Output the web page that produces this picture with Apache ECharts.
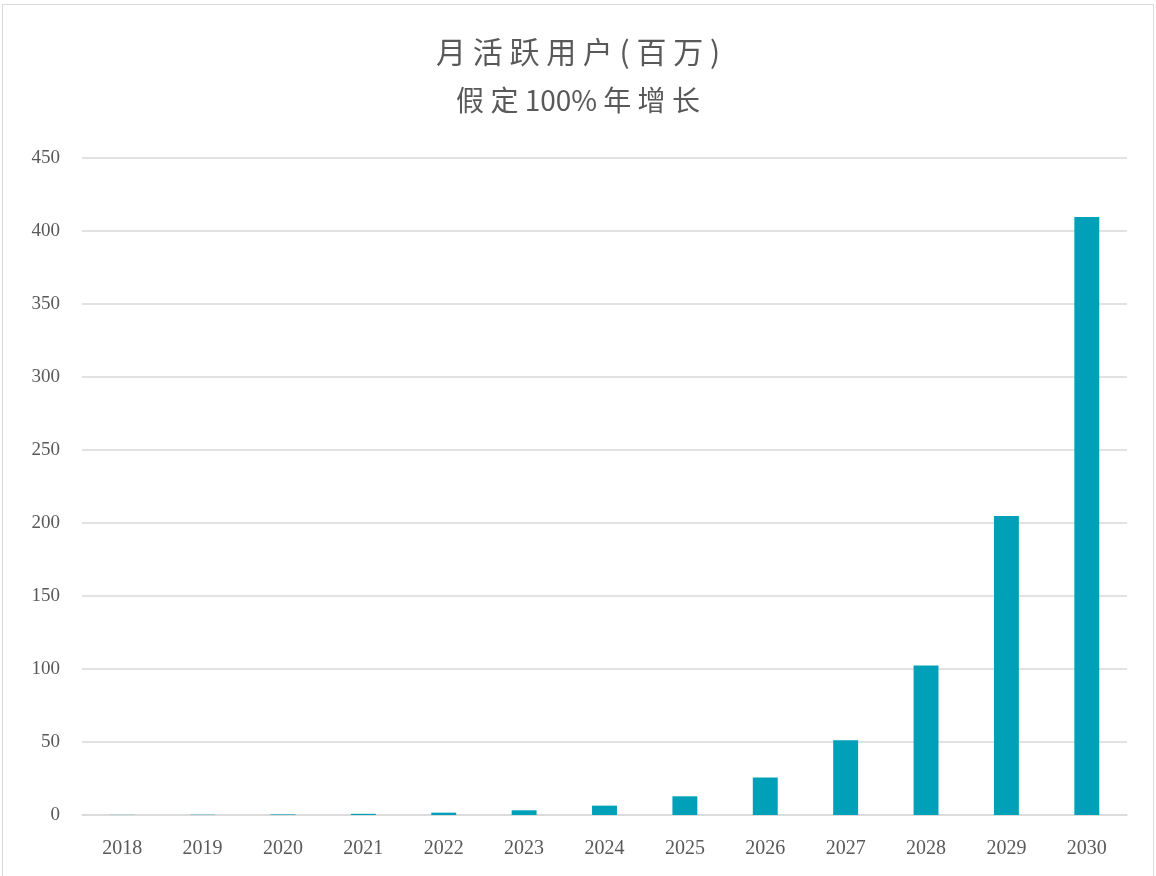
<!DOCTYPE html>
<html><head><meta charset="utf-8">
<script src="https://cdn.jsdelivr.net/npm/echarts@6/dist/echarts.min.js"></script>
<style>html,body{margin:0;padding:0;background:#fff}#c{width:1156px;height:876px}
#frame{position:absolute;left:2px;top:4px;width:1150px;height:880px;border:1px solid #d9d9d9;pointer-events:none}</style>
</head><body><div id="c"></div><div id="frame"></div>
<script>
const years = ['2018','2019','2020','2021','2022','2023','2024','2025','2026','2027','2028','2029','2030'];
const mau = [0.1,0.2,0.4,0.8,1.6,3.2,6.4,12.8,25.6,51.2,102.4,204.8,409.6];
const titleText = '月 活 跃 用 户 ( 百 万 )';
const subText = '假 定 100% 年 增 长';
const serif = '"Liberation Serif", "DejaVu Serif", serif';
const cjk = '"Noto Sans CJK SC", "Liberation Serif", serif';
const chart = echarts.init(document.getElementById('c'));
chart.setOption({
  animation:false,
  backgroundColor:'#fff',
  title:{text:titleText, subtext:subText, left:'center', top:32, itemGap:19,
    textStyle:{fontFamily:cjk, fontSize:30, fontWeight:'normal', color:'#595959'},
    subtextStyle:{fontFamily:cjk, fontSize:28, color:'#595959'}},
  grid:{left:82, right:29, top:158, bottom:61},
  xAxis:{type:'category', data:years,
    axisLine:{lineStyle:{color:'#d9d9d9', width:1.5}}, axisTick:{show:false},
    axisLabel:{fontFamily:serif, fontSize:20, color:'#595959', margin:24}},
  yAxis:{type:'value', min:0, max:450, interval:50,
    axisLine:{show:false}, axisTick:{show:false},
    splitLine:{lineStyle:{color:'#d9d9d9', width:1.5}},
    axisLabel:{fontFamily:serif, fontSize:19, color:'#595959', margin:22}},
  series:[{type:'bar', data:mau, barWidth:'31%', itemStyle:{color:'#00a0b8'}}]
});
</script></body></html>
